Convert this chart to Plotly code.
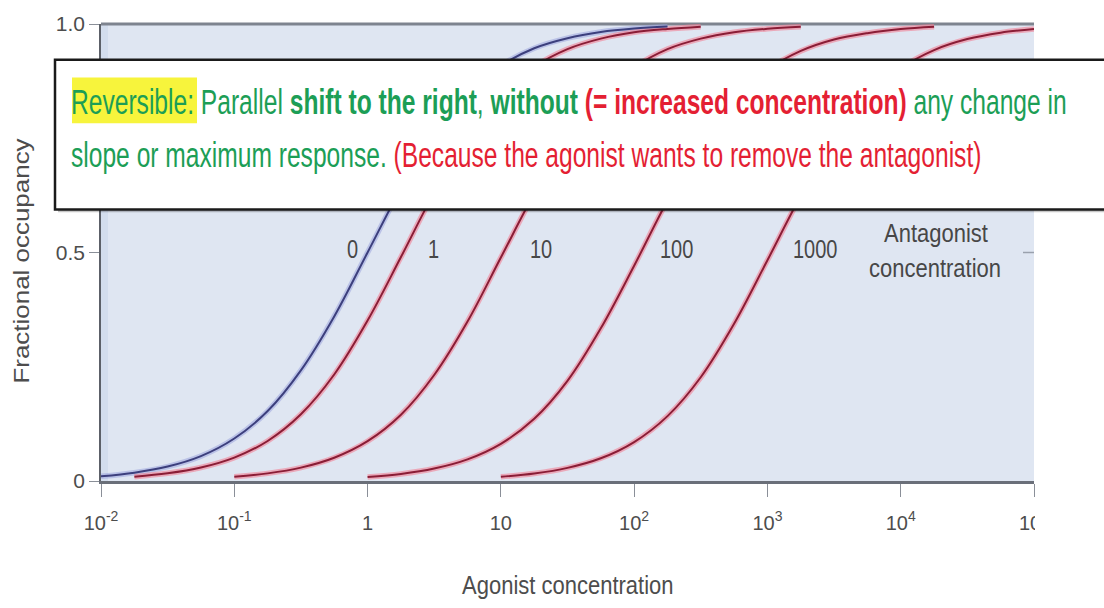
import plotly.graph_objects as go

# ---------------------------------------------------------------------------
# Data: agonist concentration grid (quarter-decade steps, 1e-2 .. 1e5)
# and fractional receptor occupancy for each antagonist concentration.
# None = curve not drawn at that concentration.
# ---------------------------------------------------------------------------
agonist_conc = [0.01, 0.0178, 0.0316, 0.0562, 0.1, 0.178, 0.316, 0.562,
                1, 1.78, 3.16, 5.62, 10, 17.8, 31.6, 56.2,
                100, 178, 316, 562, 1000, 1780, 3160, 5620,
                10000, 17800, 31600, 56200, 100000]

occ_antag_0 = [0.0102, 0.0182, 0.0316, 0.0545, 0.093, 0.153, 0.242, 0.360,
               0.500, 0.640, 0.760, 0.849, 0.909, 0.947, 0.969, 0.9825,
               0.990, 0.9944, None, None, None, None, None, None,
               None, None, None, None, None]

occ_antag_1 = [None, 0.0095, 0.0168, 0.0295, 0.0512, 0.0876, 0.146, 0.233,
               0.351, 0.490, 0.631, 0.753, 0.844, 0.906, 0.945, 0.968,
               0.982, 0.9893, 0.9942, None, None, None, None, None,
               None, None, None, None, None]

occ_antag_10 = [None, None, None, None, 0.0094, 0.0167, 0.0293, 0.0509,
                0.0871, 0.145, 0.232, 0.349, 0.489, 0.629, 0.752, 0.843,
                0.905, 0.945, 0.968, 0.982, 0.9895, 0.9941, None, None,
                None, None, None, None, None]

occ_antag_100 = [None, None, None, None, None, None, None, None,
                 0.0088, 0.0155, 0.0273, 0.0474, 0.0814, 0.136, 0.219, 0.334,
                 0.471, 0.614, 0.739, 0.834, 0.900, 0.941, 0.966, 0.980,
                 0.989, 0.994, None, None, None]

occ_antag_1000 = [None, None, None, None, None, None, None, None,
                  None, None, None, None, 0.0092, 0.0163, 0.0287, 0.0497,
                  0.0852, 0.142, 0.227, 0.344, 0.483, 0.624, 0.747, 0.840,
                  0.903, 0.943, 0.967, 0.981, 0.989]

antagonist_labels = ["0", "1", "10", "100", "1000"]
series = [occ_antag_0, occ_antag_1, occ_antag_10, occ_antag_100, occ_antag_1000]

x_tickvals = [0.01, 0.1, 1, 10, 100, 1000, 10000, 100000]
x_ticktext = ["10<sup>-2</sup>", "10<sup>-1</sup>", "1", "10",
              "10<sup>2</sup>", "10<sup>3</sup>", "10<sup>4</sup>", "10<sup>5</sup>"]
y_tickvals = [0, 0.5, 1.0]
y_ticktext = ["0", "0.5", "1.0"]

# ---------------------------------------------------------------------------
# Page geometry (pixels) and helpers to convert to paper coordinates
# ---------------------------------------------------------------------------
W, H = 1104, 608
ML, MR, MT, MB = 101, 70, 20, 127
PW, PH = W - ML - MR, H - MT - MB


def px(x):
    return (x - ML) / PW


def py(y):
    return (H - MB - y) / PH


FONT = "Liberation Sans, Arial, Helvetica, sans-serif"
GREEN = "#1c9e56"
RED = "#e41f33"
AXIS_TEXT = "#4d4d4d"
LABEL_TEXT = "#474747"

fig = go.Figure()

# soft halo under every curve, then the crisp core line on top
for name, occ in zip(antagonist_labels, series):
    halo = "rgba(150,158,220,0.5)" if name == "0" else "rgba(242,128,148,0.6)"
    fig.add_trace(go.Scatter(
        x=agonist_conc, y=occ, mode="lines",
        line=dict(color=halo, width=5.5, shape="spline", smoothing=1),
        hoverinfo="skip", showlegend=False, connectgaps=False))
for name, occ in zip(antagonist_labels, series):
    core = "#3c3f7d" if name == "0" else "#8a1d36"
    fig.add_trace(go.Scatter(
        x=agonist_conc, y=occ, mode="lines", name=name,
        line=dict(color=core, width=2, shape="spline", smoothing=1),
        showlegend=False, connectgaps=False))

shapes = [
    # slightly deeper tint along the left edge of the panel
    dict(type="rect", xref="paper", yref="paper", x0=0, x1=px(108), y0=0, y1=1,
         fillcolor="rgba(190,204,230,0.35)", line=dict(width=0), layer="below"),
    # heavy top frame
    dict(type="line", xref="paper", yref="paper", x0=0, x1=1, y0=1, y1=1,
         line=dict(color="#7e848f", width=3), layer="below"),
    # small inner tick on the right edge at 0.5
    dict(type="line", xref="paper", yref="y", x0=px(1023), x1=1, y0=0.5, y1=0.5,
         line=dict(color="#9aa1ad", width=1.5), layer="below"),
    # white page beyond the panel's right edge (hides the last tick label's tail)
    dict(type="rect", xref="paper", yref="paper", x0=px(1035), x1=px(1110),
         y0=py(608), y1=py(483), fillcolor="white", line=dict(width=0), layer="above"),
    # callout box: shadow, box, highlight
    dict(type="rect", xref="paper", yref="paper", x0=px(58), x1=px(1110),
         y0=py(210), y1=py(59), fillcolor="rgba(0,0,0,0.22)",
         line=dict(width=0), layer="above"),
    dict(type="rect", xref="paper", yref="paper", x0=px(55), x1=px(1110),
         y0=py(207), y1=py(56), fillcolor="white",
         line=dict(color="#1a1a1a", width=2.5), layer="above"),
    dict(type="rect", xref="paper", yref="paper", x0=px(72), x1=px(197),
         y0=py(120), y1=py(74), fillcolor="#f7f43c",
         line=dict(width=0), layer="above"),
]

annotations = []
stretch = {}  # annotation index -> CSS transform giving the tall, narrow lettering


def add_note(scale, **kw):
    kw.setdefault("xanchor", "center")
    kw.setdefault("yanchor", "middle")
    stretch[len(annotations)] = scale
    annotations.append(kw)


# curve labels
label_pos = {"0": (352, 247), "1": (433, 247), "10": (541, 247),
             "100": (676, 247), "1000": (815, 247)}
for name in antagonist_labels:
    lx, ly = label_pos[name]
    add_note("scaleY(1.25)", x=px(lx), y=py(ly), xref="paper", yref="paper",
             text=name, showarrow=False,
             font=dict(family=FONT, size=20, color=LABEL_TEXT))
add_note("scaleY(1.2)", x=px(936), y=py(230), xref="paper", yref="paper",
         text="Antagonist", showarrow=False,
         font=dict(family=FONT, size=22, color=LABEL_TEXT))
add_note("scaleY(1.2)", x=px(935), y=py(266), xref="paper", yref="paper",
         text="concentration", showarrow=False,
         font=dict(family=FONT, size=22, color=LABEL_TEXT))

# axis titles
add_note("scaleY(1.2)", x=px(568), y=py(585), xref="paper", yref="paper",
         text="Agonist concentration", showarrow=False,
         font=dict(family=FONT, size=22, color=AXIS_TEXT))
add_note("scaleX(1.18)", x=px(22), y=py(259), xref="paper", yref="paper",
         text="Fractional occupancy", showarrow=False, textangle=-90,
         font=dict(family=FONT, size=22, color=AXIS_TEXT))

# callout text
line1 = ("Reversible: Parallel <b>shift to the right</b>, <b>without</b> "
         f"<b><span style='color:{RED}'>(= increased concentration)</span></b> "
         "any change in")
line2 = ("slope or maximum response. "
         f"<span style='color:{RED}'>(Because the agonist wants to remove the antagonist)</span>")
add_note("scaleY(1.42)", x=px(71), y=py(98), xref="paper", yref="paper",
         xanchor="left", yanchor="middle", align="left",
         text=line1, showarrow=False, borderpad=0, borderwidth=0,
         font=dict(family=FONT, size=24.6, color=GREEN))
add_note("scaleY(1.42)", x=px(71), y=py(152), xref="paper", yref="paper",
         xanchor="left", yanchor="middle", align="left",
         text=line2, showarrow=False, borderpad=0, borderwidth=0,
         font=dict(family=FONT, size=24.6, color=GREEN))

fig.update_layout(
    width=W, height=H,
    margin=dict(l=ML, r=MR, t=MT, b=MB, pad=0),
    paper_bgcolor="white",
    plot_bgcolor="#dfe6f2",
    shapes=shapes,
    annotations=annotations,
    xaxis=dict(type="log", range=[-2, 5], tickvals=x_tickvals, ticktext=x_ticktext,
               ticks="outside", ticklen=13, tickwidth=1, tickcolor="#8a8f98",
               ticklabelstandoff=9,
               showline=True, linecolor="#6a6f79", linewidth=2.5,
               showgrid=False, zeroline=False,
               tickfont=dict(family=FONT, size=20, color=AXIS_TEXT)),
    yaxis=dict(range=[0, 1], tickvals=y_tickvals, ticktext=y_ticktext,
               ticks="outside", ticklen=10, tickwidth=1, tickcolor="#8a8f98",
               showline=True, linecolor="#5c6068", linewidth=1.5,
               showgrid=False, zeroline=False,
               tickfont=dict(family=FONT, size=21, color=AXIS_TEXT)),
)

# tall condensed lettering: stretch each annotation's text about its own centre
css = "".join(
    f'g.annotation[data-index="{i}"] text.annotation-text'
    f'{{transform-box:fill-box;transform-origin:50% 50%;transform:{t};}}'
    for i, t in stretch.items()
)
post_js = (
    "var s=document.createElement('style');"
    f"s.textContent='{css}';"
    "document.head.appendChild(s);"
)

fig.write_html("out.html", post_script=post_js)
